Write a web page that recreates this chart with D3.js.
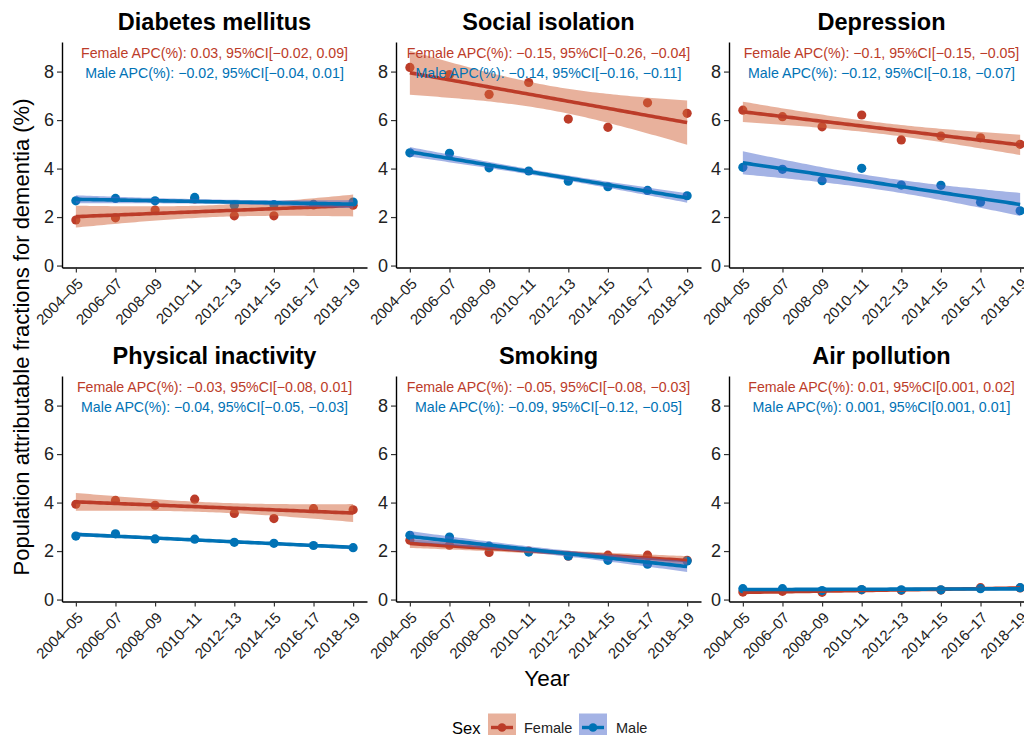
<!DOCTYPE html>
<html><head><meta charset="utf-8">
<script src="https://cdn.jsdelivr.net/npm/d3@7"></script>
<style>
body{margin:0;background:#fff;}
svg{display:block;font-family:"Liberation Sans",Arial,Helvetica,sans-serif;}
</style>
</head><body>
<svg id="chart" width="1024" height="735"></svg>
<script>
// ---------- data ----------
const years = ["2004–05","2006–07","2008–09","2010–11","2012–13","2014–15","2016–17","2018–19"];
const panelTitles = ["Diabetes mellitus","Social isolation","Depression","Physical inactivity","Smoking","Air pollution"];
const femaleLabels = [
  "Female APC(%): 0.03, 95%CI[−0.02, 0.09]",
  "Female APC(%): −0.15, 95%CI[−0.26, −0.04]",
  "Female APC(%): −0.1, 95%CI[−0.15, −0.05]",
  "Female APC(%): −0.03, 95%CI[−0.08, 0.01]",
  "Female APC(%): −0.05, 95%CI[−0.08, −0.03]",
  "Female APC(%): 0.01, 95%CI[0.001, 0.02]"
];
const maleLabels = [
  "Male APC(%): −0.02, 95%CI[−0.04, 0.01]",
  "Male APC(%): −0.14, 95%CI[−0.16, −0.11]",
  "Male APC(%): −0.12, 95%CI[−0.18, −0.07]",
  "Male APC(%): −0.04, 95%CI[−0.05, −0.03]",
  "Male APC(%): −0.09, 95%CI[−0.12, −0.05]",
  "Male APC(%): 0.001, 95%CI[0.001, 0.01]"
];
const femaleDiabetes   = [1.88,1.97,2.29,2.75,2.05,2.05,2.50,2.49];
const maleDiabetes     = [2.67,2.77,2.67,2.81,2.49,2.51,2.52,2.62];
const femaleSocial     = [8.17,7.88,7.06,7.55,6.04,5.70,6.71,6.28];
const maleSocial       = [4.65,4.63,4.03,3.90,3.48,3.25,3.10,2.88];
const femaleDepression = [6.41,6.14,5.72,6.21,5.18,5.34,5.27,5.00];
const maleDepression   = [4.05,3.97,3.50,4.01,3.32,3.31,2.61,2.26];
const femaleInactivity = [3.93,4.09,3.89,4.14,3.55,3.34,3.75,3.70];
const maleInactivity   = [2.62,2.71,2.50,2.49,2.36,2.32,2.23,2.14];
const femaleSmoking    = [2.45,2.24,1.94,2.00,1.79,1.83,1.83,1.62];
const maleSmoking      = [2.65,2.58,2.20,1.96,1.80,1.62,1.46,1.59];
const femaleAir        = [0.31,0.34,0.30,0.40,0.38,0.39,0.49,0.48];
const maleAir          = [0.45,0.45,0.37,0.41,0.40,0.40,0.45,0.49];
const yTicks = [0,2,4,6,8];
const sexes = ["Female","Male"];

const femaleSeries = [femaleDiabetes,femaleSocial,femaleDepression,femaleInactivity,femaleSmoking,femaleAir];
const maleSeries = [maleDiabetes,maleSocial,maleDepression,maleInactivity,maleSmoking,maleAir];

// ---------- style ----------
const colLine = {Female:"#BC3C29", Male:"#0072B5"};
const colFill = {Female:"#D2633A", Male:"#4A68CC"};
const fillOpacity = 0.5;

const panelLeft = [62, 396, 729], panelW = 305;
const rowTop = [42, 376], panelH = 225.5;

const svg = d3.select("#chart");

// linear fit with 95% CI (like geom_smooth(method = "lm"))
function lmFit(ys){
  const n = ys.length, xs = d3.range(n);
  const mx = d3.mean(xs), my = d3.mean(ys);
  let sxx=0, sxy=0;
  xs.forEach((x,i)=>{ sxx+=(x-mx)*(x-mx); sxy+=(x-mx)*(ys[i]-my); });
  const b = sxy/sxx, a = my - b*mx;
  let ssr=0; xs.forEach((x,i)=>{ const r=ys[i]-(a+b*x); ssr+=r*r; });
  const s = Math.sqrt(ssr/(n-2));
  const t = 2.446912; // t(0.975, df=6)
  return d3.range(0, 80).map(k=>{
    const x = (n-1)*k/79;
    const f = a + b*x;
    const se = s*Math.sqrt(1/n + (x-mx)*(x-mx)/sxx);
    return {x, f, lo:f-t*se, hi:f+t*se};
  });
}

panelTitles.forEach((title, p)=>{
  const col = p % 3, row = Math.floor(p/3);
  const L = panelLeft[col], T = rowTop[row];
  const x = d3.scaleLinear().domain([-0.35, 7.35]).range([L, L+panelW]);
  const y = d3.scaleLinear().domain([-0.08, 9.22]).range([T+panelH, T]);
  const g = svg.append("g");

  const series = {Female: femaleSeries[p], Male: maleSeries[p]};

  // points
  sexes.forEach(s=>{
    g.append("g").selectAll("circle").data(series[s]).join("circle")
      .attr("cx",(d,i)=>x(i)).attr("cy",d=>y(d)).attr("r",4.6)
      .attr("fill",colLine[s]);
  });
  // smooth: ribbon + line per group
  sexes.forEach(s=>{
    const fit = lmFit(series[s]);
    g.append("path").datum(fit)
      .attr("d", d3.area().x(d=>x(d.x)).y0(d=>y(d.lo)).y1(d=>y(d.hi)))
      .attr("fill",colFill[s]).attr("fill-opacity",fillOpacity);
    g.append("path").datum(fit)
      .attr("d", d3.line().x(d=>x(d.x)).y(d=>y(d.f)))
      .attr("fill","none").attr("stroke",colLine[s]).attr("stroke-width",3.6);
  });

  // axes
  const xAxis = g.append("g").attr("transform",`translate(0,${T+panelH})`)
    .call(d3.axisBottom(x).tickValues(d3.range(years.length)).tickFormat(i=>years[i]).tickSize(5).tickSizeOuter(0));
  xAxis.select(".domain").attr("stroke","#000").attr("stroke-width",1.4);
  xAxis.selectAll(".tick line").attr("stroke","#333").attr("stroke-width",1.2);
  xAxis.selectAll(".tick text")
    .attr("x",null).attr("y",null).attr("dy",null)
    .attr("transform","translate(7.5,17) rotate(-45)")
    .attr("text-anchor","end").attr("fill","#222")
    .style("font-size","15px").style("font-family","Liberation Sans, Arial, sans-serif");

  const yAxis = g.append("g").attr("transform",`translate(${L},0)`)
    .call(d3.axisLeft(y).tickValues(yTicks).tickSize(5).tickSizeOuter(0).tickPadding(3));
  yAxis.select(".domain").attr("stroke","#000").attr("stroke-width",1.4);
  yAxis.selectAll(".tick line").attr("stroke","#333").attr("stroke-width",1.2);
  yAxis.selectAll(".tick text").attr("fill","#222")
    .style("font-size","18px").style("font-family","Liberation Sans, Arial, sans-serif");

  // title
  const cx = L + panelW/2;
  g.append("text").attr("x",cx).attr("y", row===0 ? 30 : 364)
    .attr("text-anchor","middle").attr("font-weight","bold").attr("font-size",23.5)
    .attr("fill","#000").text(title);
  // APC annotations
  g.append("text").attr("x",cx).attr("y",T+15.5).attr("text-anchor","middle")
    .attr("font-size",14.2).attr("fill",colLine.Female).text(femaleLabels[p]);
  g.append("text").attr("x",cx).attr("y",T+35.5).attr("text-anchor","middle")
    .attr("font-size",14.2).attr("fill",colLine.Male).text(maleLabels[p]);
});

// axis titles
svg.append("text").attr("transform","translate(29,337) rotate(-90)")
  .attr("text-anchor","middle").attr("font-size",22).attr("fill","#000")
  .text("Population attributable fractions for dementia (%)");
svg.append("text").attr("x",547).attr("y",686).attr("text-anchor","middle")
  .attr("font-size",22.5).attr("fill","#000").text("Year");

// legend
const leg = svg.append("g");
leg.append("text").attr("x",452).attr("y",733.5).attr("font-size",16.5).attr("fill","#000").text("Sex");
const keyX = {Female:488, Male:579}, labX = {Female:524, Male:616};
sexes.forEach(s=>{
  leg.append("rect").attr("x",keyX[s]).attr("y",713.5).attr("width",28).attr("height",28)
    .attr("fill",colFill[s]).attr("fill-opacity",fillOpacity);
  leg.append("line").attr("x1",keyX[s]+3).attr("x2",keyX[s]+25).attr("y1",727.5).attr("y2",727.5)
    .attr("stroke",colLine[s]).attr("stroke-width",3.4);
  leg.append("circle").attr("cx",keyX[s]+14).attr("cy",727.5).attr("r",4.3).attr("fill",colLine[s]);
  leg.append("text").attr("x",labX[s]).attr("y",733).attr("font-size",14.5).attr("fill","#222").text(s);
});
</script>
</body></html>
